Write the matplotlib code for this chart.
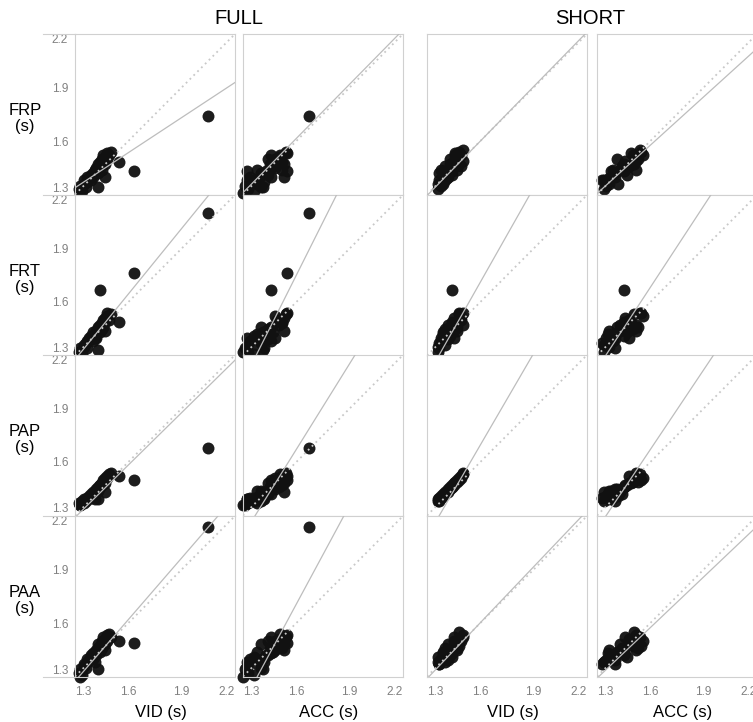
import matplotlib
matplotlib.use('Agg')
import matplotlib.pyplot as plt
import numpy as np
from matplotlib.lines import Line2D

plt.rcParams['font.family'] = ['Liberation Sans', 'DejaVu Sans']

# ---- data (seconds), one entry per participant ----
# FULL condition
vid_full = [1.32, 1.33, 1.34, 1.35, 1.35, 1.36, 1.37, 1.37, 1.38, 1.39, 1.39, 1.40,
            1.40, 1.41, 1.42, 1.42, 1.43, 1.43, 1.44, 1.44, 1.45, 1.45, 1.46, 1.46,
            1.47, 1.47, 1.48, 1.48, 1.49, 1.50, 1.43, 1.41, 1.47, 1.33,
            2.05, 1.63, 1.44, 1.55]
acc_full = [1.33, 1.31, 1.36, 1.38, 1.32, 1.40, 1.34, 1.42, 1.39, 1.44, 1.36, 1.41,
            1.46, 1.38, 1.43, 1.48, 1.45, 1.40, 1.47, 1.50, 1.44, 1.52, 1.49, 1.46,
            1.53, 1.50, 1.55, 1.48, 1.51, 1.54, 1.41, 1.32, 1.53, 1.30,
            1.67, 1.55, 1.46, 1.52]
frp_full = [1.33, 1.35, 1.32, 1.36, 1.38, 1.34, 1.40, 1.37, 1.39, 1.41, 1.38, 1.42,
            1.40, 1.44, 1.43, 1.45, 1.47, 1.42, 1.46, 1.48, 1.50, 1.44, 1.49, 1.52,
            1.47, 1.51, 1.53, 1.50, 1.52, 1.54, 1.34, 1.43, 1.40, 1.31,
            1.74, 1.43, 1.45, 1.48]
frt_full = [1.32, 1.34, 1.31, 1.36, 1.35, 1.37, 1.38, 1.34, 1.40, 1.39, 1.41, 1.43,
            1.38, 1.42, 1.44, 1.40, 1.45, 1.46, 1.43, 1.47, 1.45, 1.48, 1.50, 1.46,
            1.51, 1.49, 1.54, 1.52, 1.50, 1.53, 1.33, 1.40, 1.44, 1.32,
            2.10, 1.76, 1.67, 1.49]
pap_full = [1.37, 1.36, 1.38, 1.37, 1.39, 1.38, 1.40, 1.39, 1.41, 1.42, 1.40, 1.43,
            1.42, 1.44, 1.43, 1.45, 1.46, 1.44, 1.47, 1.46, 1.48, 1.47, 1.49, 1.50,
            1.48, 1.51, 1.52, 1.51, 1.53, 1.54, 1.39, 1.39, 1.43, 1.36,
            1.68, 1.50, 1.47, 1.52]
paa_full = [1.32, 1.34, 1.31, 1.37, 1.36, 1.35, 1.40, 1.38, 1.39, 1.42, 1.41, 1.40,
            1.43, 1.44, 1.42, 1.45, 1.46, 1.48, 1.44, 1.47, 1.50, 1.46, 1.49, 1.52,
            1.48, 1.51, 1.53, 1.50, 1.54, 1.52, 1.34, 1.38, 1.45, 1.30,
            2.14, 1.49, 1.47, 1.50]

# SHORT condition
vid_short = [1.36, 1.37, 1.36, 1.38, 1.37, 1.39, 1.38, 1.40, 1.39, 1.41, 1.40, 1.42,
             1.41, 1.43, 1.42, 1.44, 1.43, 1.45, 1.44, 1.46, 1.45, 1.47, 1.46, 1.48,
             1.47, 1.49, 1.48, 1.50, 1.49, 1.50, 1.44]
acc_short = [1.34, 1.33, 1.37, 1.35, 1.40, 1.36, 1.39, 1.34, 1.42, 1.38, 1.44, 1.40,
             1.37, 1.45, 1.43, 1.47, 1.41, 1.48, 1.45, 1.50, 1.46, 1.52, 1.49, 1.51,
             1.53, 1.48, 1.55, 1.52, 1.56, 1.54, 1.45]
frp_short = [1.33, 1.38, 1.36, 1.35, 1.42, 1.37, 1.44, 1.38, 1.36, 1.43, 1.46, 1.40,
             1.39, 1.47, 1.44, 1.41, 1.50, 1.46, 1.43, 1.52, 1.49, 1.44, 1.53, 1.47,
             1.50, 1.46, 1.54, 1.49, 1.52, 1.55, 1.44]
frt_short = [1.32, 1.37, 1.35, 1.40, 1.34, 1.42, 1.38, 1.36, 1.43, 1.40, 1.45, 1.39,
             1.44, 1.41, 1.47, 1.43, 1.46, 1.40, 1.49, 1.45, 1.51, 1.44, 1.48, 1.53,
             1.46, 1.50, 1.54, 1.47, 1.52, 1.54, 1.67]
pap_short = [1.38, 1.40, 1.39, 1.41, 1.38, 1.42, 1.40, 1.43, 1.41, 1.44, 1.42, 1.45,
             1.44, 1.46, 1.43, 1.47, 1.45, 1.48, 1.46, 1.49, 1.47, 1.50, 1.48, 1.51,
             1.49, 1.52, 1.50, 1.54, 1.51, 1.53, 1.46]
paa_short = [1.38, 1.37, 1.41, 1.39, 1.37, 1.43, 1.40, 1.38, 1.44, 1.41, 1.46, 1.39,
             1.45, 1.42, 1.48, 1.41, 1.44, 1.50, 1.43, 1.47, 1.52, 1.45, 1.49, 1.55,
             1.46, 1.51, 1.47, 1.53, 1.50, 1.52, 1.44]

# fitted lines: rows FRP, FRT, PAP, PAA; cols VID/ACC full, VID/ACC short
line_slope = [[0.656, 1.014, 1.019, 0.904],
              [1.226, 1.989, 1.762, 1.522],
              [0.980, 1.603, 1.714, 1.490],
              [1.152, 1.850, 1.046, 0.947]]
line_icpt = [[0.485, -0.008, -0.031, 0.130],
             [-0.317, -1.432, -1.108, -0.753],
             [0.015, -0.894, -1.047, -0.714],
             [-0.224, -1.254, -0.072, 0.059]]

row_names = ['FRP', 'FRT', 'PAP', 'PAA']
col_names = ['VID (s)', 'ACC (s)', 'VID (s)', 'ACC (s)']
group_names = ['FULL', 'SHORT']
ticks = [1.3, 1.6, 1.9, 2.2]

col_x = [vid_full, acc_full, vid_short, acc_short]
row_y = [[frp_full, frt_full, pap_full, paa_full],
         [frp_short, frt_short, pap_short, paa_short]]

# ---- layout in pixels ----
W, H = 753, 722
col_left = [75, 243, 427, 597]
row_top = [34, 195, 355, 516]
pw, ph = 160, 160.5
edge = '#d0d0d0'
tick_col = '#808080'

fig = plt.figure(figsize=(W / 100, H / 100), dpi=100)

for r in range(4):
    for c in range(4):
        ax = fig.add_axes([col_left[c] / W, 1 - (row_top[r] + ph) / H, pw / W, ph / H])
        x = np.array(col_x[c])
        y = np.array(row_y[c // 2][r])
        ax.scatter(x, y, s=74, color='#111111', alpha=0.95, linewidths=0,
                   clip_on=False, zorder=2)
        xs = np.array([1.3, 2.2])
        ax.plot(xs, xs, color='#c8c8c8', lw=1.3, linestyle=(0, (1, 2)), zorder=3)
        ax.plot(xs, line_slope[r][c] * xs + line_icpt[r][c], color='#bdbdbd',
                lw=0.9, zorder=3)
        ax.set_xlim(1.3, 2.2)
        ax.set_ylim(1.3, 2.2)
        ax.set_xticks(ticks)
        ax.set_yticks(ticks)
        ax.tick_params(length=0, labelsize=8.5, labelcolor=tick_col, pad=5)
        for sp in ax.spines.values():
            sp.set_color(edge)
            sp.set_linewidth(0.8)
        if r == 3:
            ax.set_xticklabels([f'{t:.1f}' for t in ticks])
            labs = ax.get_xticklabels()
            labs[0].set_ha('left')
            labs[-1].set_ha('right')
            ax.tick_params(axis='x', pad=7)
        else:
            ax.set_xticklabels([])
        if c == 0:
            ax.set_yticklabels([f'{t:.1f}' for t in ticks])
            labs = ax.get_yticklabels()
            labs[0].set_va('bottom')
            labs[-1].set_va('top')
        else:
            ax.set_yticklabels([])

# horizontal rules running under the left tick labels
for yy in row_top + [row_top[-1] + ph]:
    fig.add_artist(Line2D([43 / W, 75 / W], [1 - yy / H] * 2, color=edge, lw=0.8))

# row labels
for r, name in enumerate(row_names):
    fig.text(25 / W, 1 - (row_top[r] + ph / 2 + 4) / H, f'{name}\n(s)',
             ha='center', va='center', fontsize=12, linespacing=1.1)

# column labels
for c, name in enumerate(col_names):
    fig.text((col_left[c] + pw / 2 + 6) / W, 1 - 712 / H, name,
             ha='center', va='center', fontsize=12)

# group titles
fig.text(239 / W, 1 - 19 / H, group_names[0], ha='center', va='center', fontsize=14.5)
fig.text(590 / W, 1 - 19 / H, group_names[1], ha='center', va='center', fontsize=14.5)

fig.savefig('out.png', dpi=100)
